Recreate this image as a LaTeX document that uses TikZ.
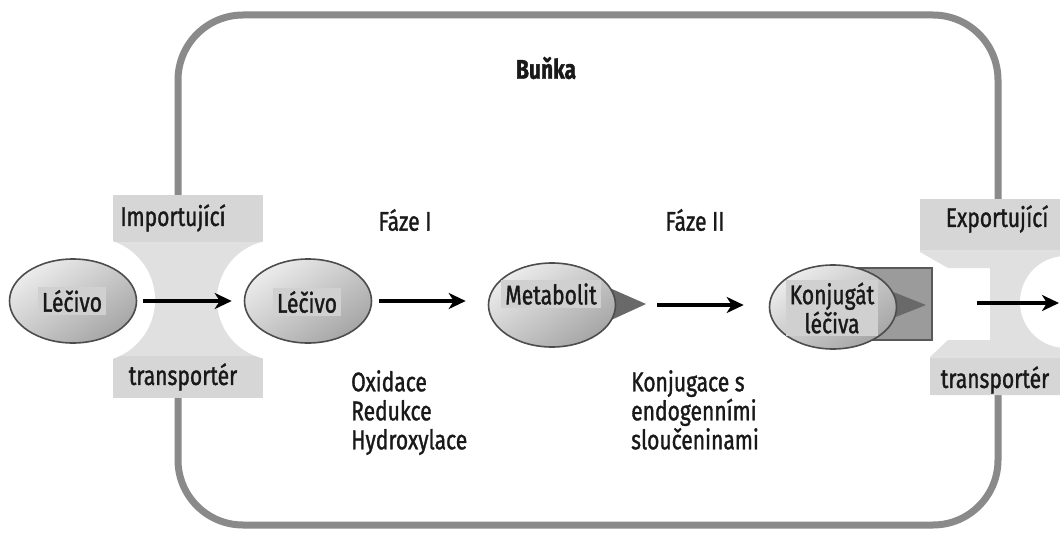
\documentclass[tikz,border=0pt]{standalone}
\usepackage{fontspec}
\setmainfont{Fira Sans}[FakeStretch=0.78,FakeBold=1.2]
\usetikzlibrary{arrows.meta,shapes.geometric}
\definecolor{wallgray}{RGB}{138,138,138}
\definecolor{transgray}{RGB}{224,224,224}
\definecolor{bandgray}{RGB}{214,214,214}
\definecolor{txtbg}{RGB}{208,208,208}
\definecolor{trigray}{RGB}{105,105,105}
\definecolor{boxgray}{RGB}{155,155,155}
\begin{document}
\begin{tikzpicture}[x=1pt,y=-1pt,
  every node/.style={font=\fontsize{27}{29}\selectfont, text=black!90, inner sep=1pt},
  wall/.style={draw=wallgray, line width=7pt, rounded corners=65pt},
  trans/.style={fill=transgray},
  band/.style={fill=bandgray},
  mol/.style={ellipse, draw=black!70, line width=1.6pt, minimum width=127pt, minimum height=84pt,
    top color=gray!15, bottom color=gray!70, shading angle=35},
  tlabel/.style={fill=txtbg, inner xsep=4pt, inner ysep=3pt, align=center},
  arr/.style={line width=3.5pt, -{Stealth[length=17pt,width=16pt,inset=5pt]}},
  tri/.style={fill=trigray},
  kbox/.style={rectangle, fill=boxgray, draw=black!65, line width=1.4pt, minimum width=87pt, minimum height=72pt}]
\useasboundingbox (0,0) rectangle (1060,535);
\fill[white] (0,0) rectangle (1060,535);

% cell wall
\draw[wall] (178,15) rectangle (998,525);

% left (importing) transporter
\fill[trans] (113,195) rectangle (263,398);
\fill[band] (113,195) rectangle (263,242);
\fill[band] (113,356) rectangle (263,398);
\fill[white] (93,300) circle[radius=62];
\fill[white] (277,300) circle[radius=60];

% right (exporting) transporter
\fill[trans] (920,199) -- (1060,199) -- (1060,395) -- (930,395) -- (930,357) -- (948,340)
  -- (990,340) -- (990,268) -- (948,268) -- (920,252) -- cycle;
\fill[band] (920,199) rectangle (1060,250);
\fill[band] (930,358) rectangle (1060,395);
\fill[white] (1066,302) circle[radius=46];

% molecules
\node[mol] (lek0) at (73,301) {};
\node[tlabel] (lek0t) at (72,301) {Léčivo};
\node[mol] (lek1) at (308,301) {};
\node[tlabel] (lek1t) at (307,302) {Léčivo};

\fill[tri] (596,282) -- (646,304) -- (596,327) -- cycle;
\node[mol] (met) at (552,305) {};
\node[tlabel] (mett) at (551,294) {Metabolit};

\node[kbox] (box) at (888.5,304) {};
\fill[tri] (868,282) -- (926,305) -- (868,328) -- cycle;
\node[mol] (konj) at (833,307) {};
\node[tlabel] (konjt) at (832,308) {Konjugát\\léčiva};

% arrows
\coordinate (out) at (1059,303);
\draw[arr] ([xshift=6pt]lek0.east) -- ([xshift=-12pt]lek1.west);
\draw[arr] ([xshift=7pt]lek1.east) -- ([xshift=-22pt]met.west |- lek1.east);
\draw[arr] ([xshift=41pt]met.east) -- ([xshift=-25pt]konj.west |- met.east);
\draw[arr] ([xshift=44pt]box.east |- out) -- (out);

% labels
\node (bunka) at (546,68) {\bfseries Buňka};
\node (imp) at (173,218) {Importující};
\node (tr1) at (183,377) {transportér};
\node (f1) at (405,220) {Fáze I};
\node (f2) at (695,220) {Fáze II};
\node (exp) at (997,219) {Exportující};
\node (tr2) at (995,380) {transportér};
\node[align=left, anchor=north west] (ox) at (350,369) {Oxidace\\Redukce\\Hydroxylace};
\node[align=left, anchor=north west] (kon) at (630,369) {Konjugace s\\endogenními\\sloučeninami};
\end{tikzpicture}
\end{document}
